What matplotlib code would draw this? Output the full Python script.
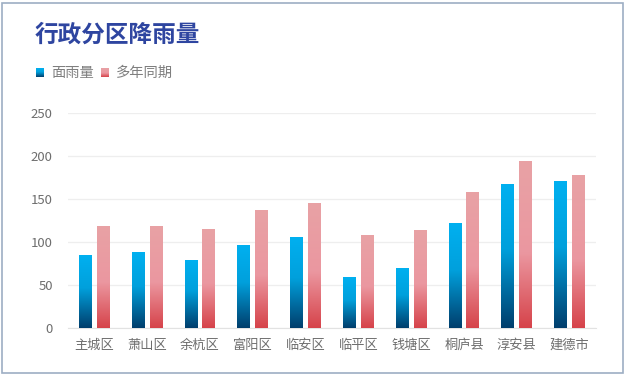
import numpy as np
import matplotlib
matplotlib.use("Agg")
import matplotlib.pyplot as plt
from matplotlib.colors import LinearSegmentedColormap
from matplotlib.patches import Rectangle

plt.rcParams['font.family'] = ['Noto Sans CJK SC', 'DejaVu Sans']

districts = ["主城区", "萧山区", "余杭区", "富阳区", "临安区",
             "临平区", "钱塘区", "桐庐县", "淳安县", "建德市"]
rain = [84, 88, 79, 96.5, 105, 59, 69, 121, 166.5, 170]
normal = [117.5, 117.5, 114, 137, 144.5, 108, 113, 158, 194, 177]
series_names = ["面雨量", "多年同期"]
yticks = [0, 50, 100, 150, 200, 250]

# bottom -> top
blue_cm = LinearSegmentedColormap.from_list(
    "blue", [(0, "#003E6C"), (0.55, "#00A0DC"), (1, "#00B0F0")])
pink_cm = LinearSegmentedColormap.from_list(
    "pink", [(0, "#D6434A"), (0.45, "#EB97A0"), (1, "#E8A2A5")])
grad = np.linspace(0, 1, 256).reshape(-1, 1)

fig = plt.figure(figsize=(6.24, 3.75), dpi=100)
ax = fig.add_axes([68 / 624, 47 / 375, 528 / 624, 215 / 375])

x = np.arange(len(districts))
w = 0.246
off = 0.17


def grad_bars(xs, vals, cmap):
    bars = ax.bar(xs, vals, width=w, alpha=0)
    for b in bars:
        x0 = b.get_x()
        ax.imshow(grad, cmap=cmap, origin="lower", aspect="auto",
                  extent=(x0, x0 + b.get_width(), 0, b.get_height()),
                  zorder=3, interpolation="bilinear")


grad_bars(x - off, rain, blue_cm)
grad_bars(x + off, normal, pink_cm)

ax.set_xlim(-0.5, len(districts) - 0.5)
ax.set_ylim(0, 250)
ax.set_yticks(yticks)
ax.set_xticks(x)
ax.set_xticklabels(districts)
ax.grid(axis="y", color="#EEEEEE", lw=0.9)
ax.set_axisbelow(True)
for s in ["top", "right", "left"]:
    ax.spines[s].set_visible(False)
ax.spines["bottom"].set_color("#E2E2E2")
ax.tick_params(length=0, colors="#6E6E6E", labelsize=9.5)
ax.tick_params(axis="y", pad=11)
ax.tick_params(axis="x", pad=8)

fig.text(35 / 624, 1 - 35 / 375, "行政分区降雨量", fontsize=17,
         fontweight="bold", color="#2E45A0", va="center")

# legend
for sx, tx, cmap, name in [(36, 51, blue_cm, series_names[0]),
                           (101, 116, pink_cm, series_names[1])]:
    lax = fig.add_axes([sx / 624, 1 - 77 / 375, 8 / 624, 9 / 375])
    lax.imshow(grad, cmap=cmap, origin="lower", aspect="auto")
    lax.axis("off")
    fig.text(tx / 624, 1 - 73 / 375, name, fontsize=10.3, color="#7F7F7F",
             va="center")

fig.patches.append(Rectangle((1.5 / 624, 2.5 / 375), 621 / 624, 370 / 375,
                             transform=fig.transFigure, fill=False,
                             edgecolor="#9DAEC4", lw=1.2))

fig.savefig("out.png", dpi=100)
